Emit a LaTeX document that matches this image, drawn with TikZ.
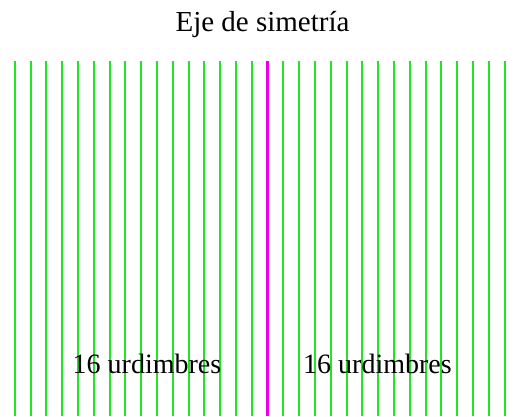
\documentclass[tikz,border=0pt]{standalone}
\usepackage{fontspec}
\setmainfont{Liberation Serif}
\definecolor{verde}{RGB}{34,228,34}
\definecolor{fucsia}{RGB}{235,0,235}

\begin{document}
\begin{tikzpicture}[
  x=1pt, y=1pt,
  hilo/.style={draw=verde, line width=2pt},
  eje/.style={draw=fucsia, line width=3pt},
  rotulo/.style={font=\fontsize{28}{32}\selectfont, inner sep=0pt, anchor=base}
]
\useasboundingbox (0,0) rectangle (515,416);

% Urdimbres
\foreach \k in {0,...,15,17,18,...,31}
  \draw[hilo] ({14.7+15.8*\k},355) -- ({14.7+15.8*\k},0);
\draw[eje] (267.5,355) -- (267.5,0);

% Textos
\node[rotulo, font=\fontsize{29}{32}\selectfont] (titulo) at (262.5,384.3) {Eje de simetría};
\node[rotulo] (izq) at (147,42.7) {16 urdimbres};
\node[rotulo] (der) at (377.5,42.7) {16 urdimbres};
\end{tikzpicture}
\end{document}
